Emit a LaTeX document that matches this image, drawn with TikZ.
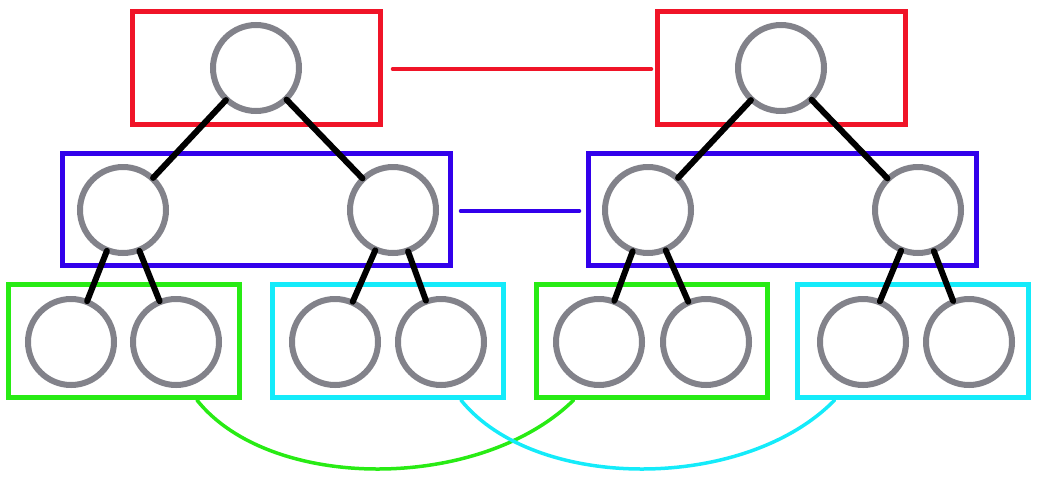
\documentclass[tikz,border=0pt]{standalone}
\usetikzlibrary{calc}

\definecolor{ccred}{RGB}{240,20,40}
\definecolor{ccblue}{RGB}{50,0,235}
\definecolor{ccgreen}{RGB}{40,235,20}
\definecolor{cccyan}{RGB}{20,235,250}
\definecolor{ccgray}{RGB}{130,130,138}

\begin{document}
\begin{tikzpicture}[x=1pt, y=-1pt,
    tree/.style={circle, draw=ccgray, line width=6pt, minimum size=86pt, inner sep=0pt},
    group/.style={draw=#1, line width=5pt, inner sep=0pt},
    edge/.style={black, line width=6pt, line cap=round, shorten <=-2pt, shorten >=-2pt},
    link/.style={draw=#1, line width=3.5pt, line cap=round}]

\useasboundingbox (0,0) rectangle (1038,488);

% Level boxes
\node[group=ccred, minimum width=248pt, minimum height=113pt] (r1) at (256,68) {};
\node[group=ccred, minimum width=248pt, minimum height=113pt] (r2) at (781,68) {};
\node[group=ccblue, minimum width=388pt, minimum height=112pt] (b1) at (256,209) {};
\node[group=ccblue, minimum width=388pt, minimum height=112pt] (b2) at (782,209) {};
\node[group=ccgreen, minimum width=231pt, minimum height=113pt] (g1) at (124,341) {};
\node[group=cccyan, minimum width=231pt, minimum height=113pt] (c1) at (388,341) {};
\node[group=ccgreen, minimum width=231pt, minimum height=113pt] (g2) at (652,341) {};
\node[group=cccyan, minimum width=231pt, minimum height=113pt] (c2) at (913,341) {};

% Tree nodes
\node[tree] (a0) at (256,68) {};
\node[tree] (a1) at (123,210) {};
\node[tree] (a2) at (393,210) {};
\node[tree] (a3) at (71,342) {};
\node[tree] (a4) at (176,342) {};
\node[tree] (a5) at (335,342) {};
\node[tree] (a6) at (441,342) {};

\node[tree] (b0) at (781,68) {};
\node[tree] (b1n) at (648,210) {};
\node[tree] (b2n) at (918,210) {};
\node[tree] (b3) at (599,342) {};
\node[tree] (b4) at (706,342) {};
\node[tree] (b5) at (863,342) {};
\node[tree] (b6) at (969,342) {};

%%%%%%%%%% Edges %%%%%%%%%%
\draw[edge] (a0) -- (a1);
\draw[edge] (a0) -- (a2);
\draw[edge] (a1) -- (a3);
\draw[edge] (a1) -- (a4);
\draw[edge] (a2) -- (a5);
\draw[edge] (a2) -- (a6);

\draw[edge] (b0) -- (b1n);
\draw[edge] (b0) -- (b2n);
\draw[edge] (b1n) -- (b3);
\draw[edge] (b1n) -- (b4);
\draw[edge] (b2n) -- (b5);
\draw[edge] (b2n) -- (b6);

% Links between the two trees
\draw[link=ccred] ($(r1.east)+(10,1)$) coordinate (rl) -- ($(r2.west)+(-3,1)$) coordinate (rr);
\draw[link=ccblue] ($(b1.east)+(8,2)$) coordinate (bl) -- ($(b2.west)+(-6,2)$) coordinate (br);
\draw[link=ccgreen] (g1.-39) .. controls (270,492) and (480,492) .. (g2.-143);
\draw[link=cccyan] (c1.-39) .. controls (535,492) and (745,492) .. (c2.-143);

\end{tikzpicture}
\end{document}
